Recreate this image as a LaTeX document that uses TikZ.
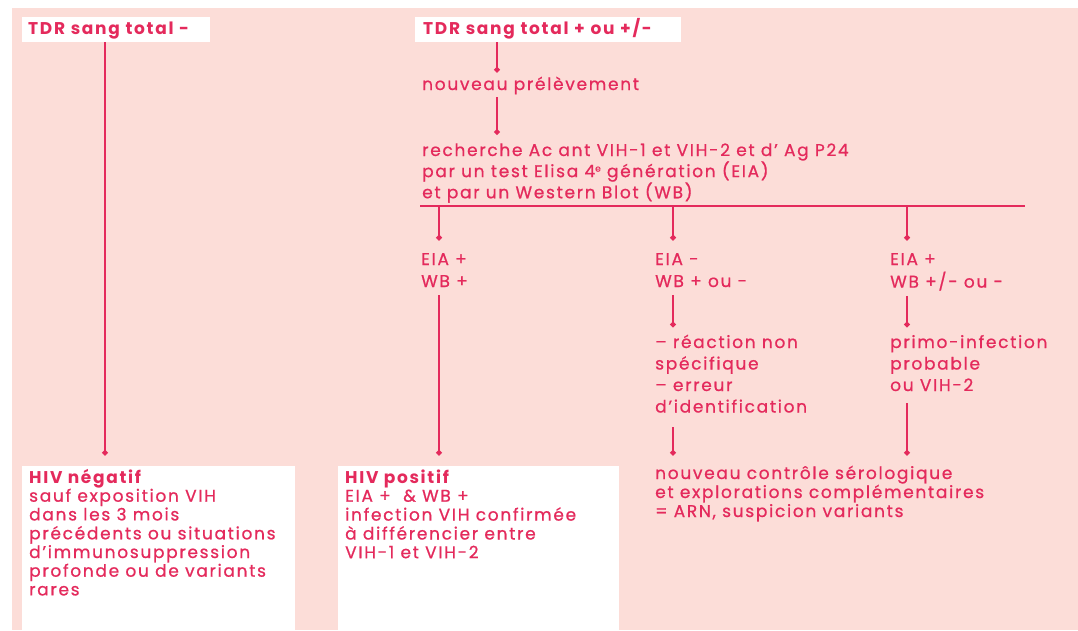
\documentclass[tikz,border=0pt]{standalone}
\usepackage{fontspec}
\setmainfont{Poppins}[LetterSpace=10, UprightFeatures={FakeBold=0.8}]
\usetikzlibrary{arrows.meta}
\definecolor{ink}{RGB}{228,42,92}
\definecolor{blush}{RGB}{252,221,216}
% left-aligned block whose baseline is the first line's baseline
\newcommand{\stack}[1]{\begin{tabular}[t]{@{}l@{}}#1\end{tabular}}
% small raised ordinal suffix
\newcommand{\ordsup}[1]{\raisebox{5.5pt}{\fontsize{9}{9}\selectfont #1}}
\begin{document}
\begin{tikzpicture}[x=1pt,y=-1pt,
  copy/.style={anchor=base west, inner sep=0pt, text=ink, font=\fontsize{17}{#1}\selectfont},
  copy/.default=19,
  tag/.style={anchor=north west, fill=white, inner ysep=0pt, text=ink,
    font=\fontsize{17}{18}\selectfont\bfseries, text height=17pt, text depth=8pt, align=left},
  panel/.style={anchor=north west, fill=white, inner sep=0pt},
  link/.style={draw=ink, line width=2pt, -{Circle[length=5.5pt]}},
  bus/.style={draw=ink, line width=2pt},
]
% page and tinted field
\fill[white] (0,0) rectangle (1078,630);
\fill[blush] (12,8) rectangle (1078,630);
\useasboundingbox (0,0) rectangle (1078,630);

% top labels
\node[tag, inner xsep=6pt, text width=176pt] (tdrn) at (22,17) {TDR sang total -};
\node[tag, inner xsep=8pt, text width=250pt] (tdrp) at (415,17) {TDR sang total + ou +/-};

% right-hand sequence
\node[copy] (nouv) at (422,90) {\stack{nouveau prélèvement}};
\node[copy=17.5] (rech) at (422,156) {\stack{recherche Ac ant VIH-1 et VIH-2 et d’ Ag P24\\
  par un test Elisa 4\ordsup{e} génération (EIA)\\
  et par un Western Blot (WB)}};
\node[copy=22] (eia1) at (421,265) {\stack{EIA +\\WB +}};
\node[copy=22] (eia2) at (655,265) {\stack{EIA -\\WB + ou -}};
\node[copy=22] (eia3) at (890,265) {\stack{EIA +\\WB +/- ou -}};
\node[copy=21.5] (reac) at (655,348) {\stack{– réaction non\\spécifique\\– erreur\\d’identification}};
\node[copy=21.5] (primo) at (890,348) {\stack{primo-infection\\probable\\ou VIH-2}};

% outcome panels
\node[panel, minimum width=273pt, minimum height=164pt] (hivn) at (22,466) {};
\node[panel, minimum width=281pt, minimum height=164pt] (hivp) at (338,466) {};
\node[copy=18.7] (hivntxt) at (29,483) {\stack{\textbf{HIV négatif}\\
  sauf exposition VIH\\dans les 3 mois\\précédents ou situations\\
  d’immunosuppression\\profonde ou de variants\\rares}};
\node[copy=18.7] (hivptxt) at (345,483) {\stack{\textbf{HIV positif}\\
  EIA +\ \ \& WB +\\infection VIH confirmée\\à différencier entre\\VIH-1 et VIH-2}};
\node[copy] (ctrl) at (655,479) {\stack{nouveau contrôle sérologique\\
  et explorations complémentaires\\= ARN, suspicion variants}};

% trunk positions
\coordinate (xa) at (105,0);
\coordinate (xb) at (497,0);
\coordinate (busW) at (420,206);
\coordinate (busE) at (1025,206);
\coordinate (k1) at (439,206);
\coordinate (k2) at (673,206);
\coordinate (k3) at (907,206);

% connectors
\draw[link, shorten >=10.5pt] (xa |- tdrn.south) -- (xa |- hivn.north);
\draw[link, shorten >=4pt] (xb |- tdrp.south) -- (xb |- nouv.north);
\draw[link, shorten <=1.5pt, shorten >=8.5pt] (xb |- nouv.south) -- (xb |- rech.north);
\draw[bus] (busW) -- (busE);
\draw[link, shorten >=9pt] (k1) -- (k1 |- eia1.north);
\draw[link, shorten >=9pt] (k2) -- (k2 |- eia2.north);
\draw[link, shorten >=9pt] (k3) -- (k3 |- eia3.north);
\draw[link, shorten <=1.5pt, shorten >=10.5pt] (k1 |- eia1.south) -- (k1 |- hivp.north);
\draw[link, shorten <=1.5pt, shorten >=5.5pt] (k2 |- eia2.south) -- (k2 |- reac.north);
\draw[link, shorten <=1.5pt, shorten >=5.5pt] (k3 |- eia3.south) -- (k3 |- primo.north);
\draw[link, shorten <=8pt, shorten >=10pt] (k2 |- reac.south) -- (k2 |- ctrl.north);
\draw[link, shorten <=5.5pt, shorten >=10pt] (k3 |- primo.south) -- (k3 |- ctrl.north);
\end{tikzpicture}
\end{document}
